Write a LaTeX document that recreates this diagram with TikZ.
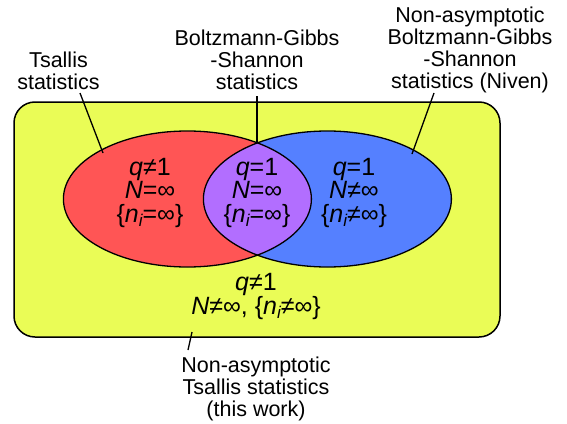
\documentclass[tikz,border=0pt]{standalone}
\usepackage{fontspec}
\setmainfont{Liberation Sans}
\usetikzlibrary{shapes.geometric}
\definecolor{bgyellow}{RGB}{234,252,86}
\definecolor{redfill}{RGB}{255,85,85}
\definecolor{bluefill}{RGB}{85,128,255}
\definecolor{purplefill}{RGB}{178,110,255}
\newcommand{\subi}{\raisebox{-0.35ex}{\fontsize{17}{17}\selectfont\itshape i}}
\tikzset{
  outer/.style={align=center, anchor=base, inner sep=0pt, font=\fontsize{21.5}{22}\selectfont},
  inner/.style={align=center, anchor=base, inner sep=0pt, font=\fontsize{25}{23.5}\selectfont},
  leader/.style={line width=1.3pt},
  setel/.style={ellipse, minimum width=248pt, minimum height=136pt, inner sep=0pt, outer sep=0pt}
}
\begin{document}
\begin{tikzpicture}[x=1pt,y=-1pt]
\useasboundingbox (0,0) rectangle (567,423);
% universe box
\draw[fill=bgyellow, line width=1.5pt, rounded corners=21pt] (14,102) rectangle (500,337);
% fills
\node[setel, fill=redfill] (redf) at (187.4,199) {};
\node[setel, fill=bluefill] (bluef) at (327.4,199) {};
\begin{scope}
  \clip (187.4,199) ellipse [x radius=124, y radius=68];
  \fill[purplefill] (327.4,199) ellipse [x radius=124, y radius=68];
\end{scope}
% outlines
\node[setel, draw, line width=1.3pt] (red) at (187.4,199) {};
\node[setel, draw, line width=1.3pt] (blue) at (327.4,199) {};
% inside texts (base = last line)
\node[inner] (tred) at (150,222) {\textit{q}≠1\\\textit{N}=∞\\\{\textit{n}\subi=∞\}};
\node[inner] (tpur) at (257,222) {\textit{q}=1\\\textit{N}=∞\\\{\textit{n}\subi=∞\}};
\node[inner] (tblue) at (354,222) {\textit{q}=1\\\textit{N}≠∞\\\{\textit{n}\subi≠∞\}};
\node[inner] (tyel) at (256,314) {\textit{q}≠1\\\textit{N}≠∞, \{\textit{n}\subi≠∞\}};
% labels (base = last line)
\node[outer] (ltsallis) at (58.5,89) {Tsallis\\statistics};
\node[outer] (lbgs) at (257,89) {Boltzmann-Gibbs\\-Shannon\\statistics};
\node[outer] (lniven) at (470,88) {Non-asymptotic\\Boltzmann-Gibbs\\-Shannon\\statistics (Niven)};
\node[outer] (lthis) at (256,416) {Non-asymptotic\\Tsallis statistics\\(this work)};
% leader lines
\coordinate (a1) at (80,93);   \coordinate (a2) at (103,153);
\coordinate (b1) at (257,96);  \coordinate (b2) at (257,143);
\coordinate (c1) at (434,93);  \coordinate (c2) at (412,154);
\coordinate (d1) at (192,332); \coordinate (d2) at (188,350);
\draw[leader] (a1) -- (a2);
\draw[leader] (b1) -- (b2);
\draw[leader] (c1) -- (c2);
\draw[leader] (d1) -- (d2);
\end{tikzpicture}
\end{document}
